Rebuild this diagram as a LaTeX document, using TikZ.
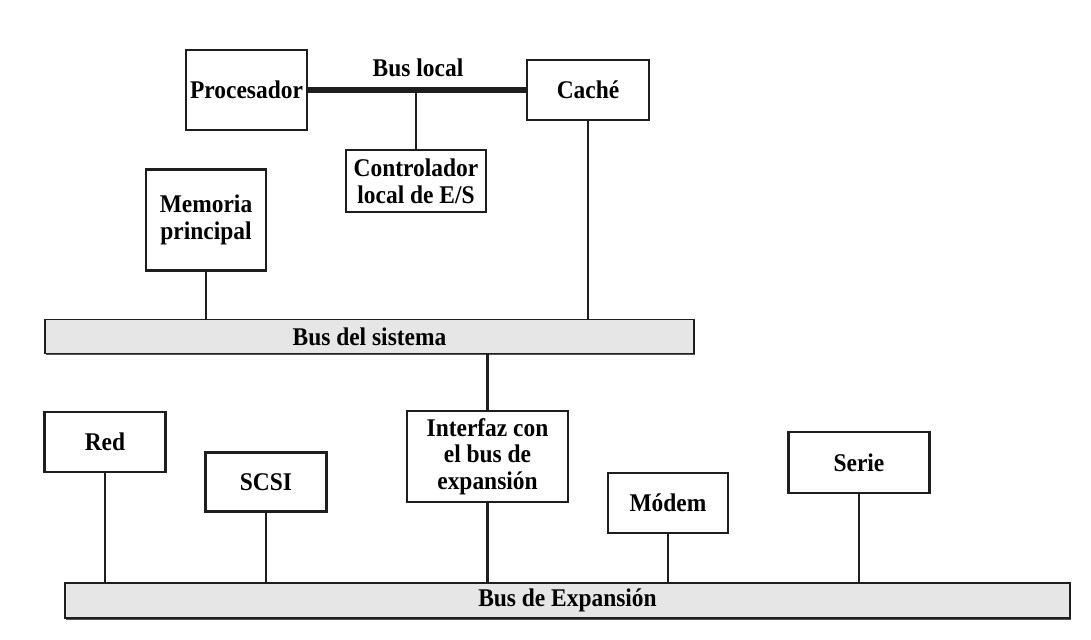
\documentclass[tikz,border=0pt]{standalone}
\usepackage{fontspec}
\setmainfont[FakeStretch=0.92]{Liberation Serif}
\usetikzlibrary{positioning,calc,shadows}
\definecolor{ink}{HTML}{1E1E1E}
\definecolor{busgray}{HTML}{E6E6E6}

\begin{document}
\begin{tikzpicture}[box/.style={draw=ink,line width=1.2pt,fill=white,align=center,font=\fontsize{14.5}{15.2}\selectfont\bfseries,inner sep=2pt},
  bus/.style={draw=ink,line width=1.1pt,fill=busgray,font=\fontsize{14.5}{15.2}\selectfont\bfseries,minimum height=6.8mm,
    drop shadow={shadow xshift=.5pt,shadow yshift=-1pt,fill=ink!75,opacity=1}},
  wire/.style={draw=ink,line width=1.2pt}]
\useasboundingbox (0,0) rectangle (21.82,-12.78);
\node[box,minimum width=24.2mm,minimum height=16mm] (proc) at (4.93,-1.8) {Procesador};
\node[box,minimum width=24.4mm,minimum height=12mm] (cache) at (11.76,-1.8) {Caché};
\node[box,minimum width=28mm,minimum height=12.4mm] (ctrl) at (8.32,-3.62) {Controlador\\local de E/S};
\node[box,minimum width=24mm,minimum height=20.2mm] (mem) at (4.12,-4.4) {Memoria\\principal};
\node[bus,minimum width=129.8mm] (sysbus) at (7.39,-6.73) {Bus del sistema};
\node[box,minimum width=32.2mm,minimum height=18.2mm] (iface) at (9.75,-9.13) {Interfaz con\\el bus de\\expansión};
\node[box,minimum width=24.2mm,minimum height=12mm] (red) at (2.1,-8.84) {Red};
\node[box,minimum width=24.2mm,minimum height=11.8mm] (scsi) at (5.32,-9.64) {SCSI};
\node[box,minimum width=24mm,minimum height=12mm] (modem) at (13.36,-10.06) {Módem};
\node[box,minimum width=28.2mm,minimum height=12.2mm] (serie) at (17.18,-9.25) {Serie};
\node[bus,minimum width=201mm,minimum height=7mm] (expbus) at (11.35,-12.01) {Bus de Expansión};
% bus local
\draw[ink,line width=3pt] (proc.east |- cache.west) -- (cache.west);
\node[font=\fontsize{14.5}{15.2}\selectfont\bfseries] (buslocal) at (8.36,-1.36) {Bus local};
\draw[wire] (ctrl.north) -- (ctrl.north |- cache.west);
% bus del sistema
\draw[wire] (mem.south) -- (mem.south |- sysbus.north);
\draw[wire] (cache.south) -- (cache.south |- sysbus.north);
\draw[wire] (iface.north) -- (iface.north |- sysbus.south);
% bus de expansion
\foreach \dev in {red,scsi,iface,modem,serie}{
  \draw[wire] (\dev.south) -- (\dev.south |- expbus.north);
}
\end{tikzpicture}
\end{document}
